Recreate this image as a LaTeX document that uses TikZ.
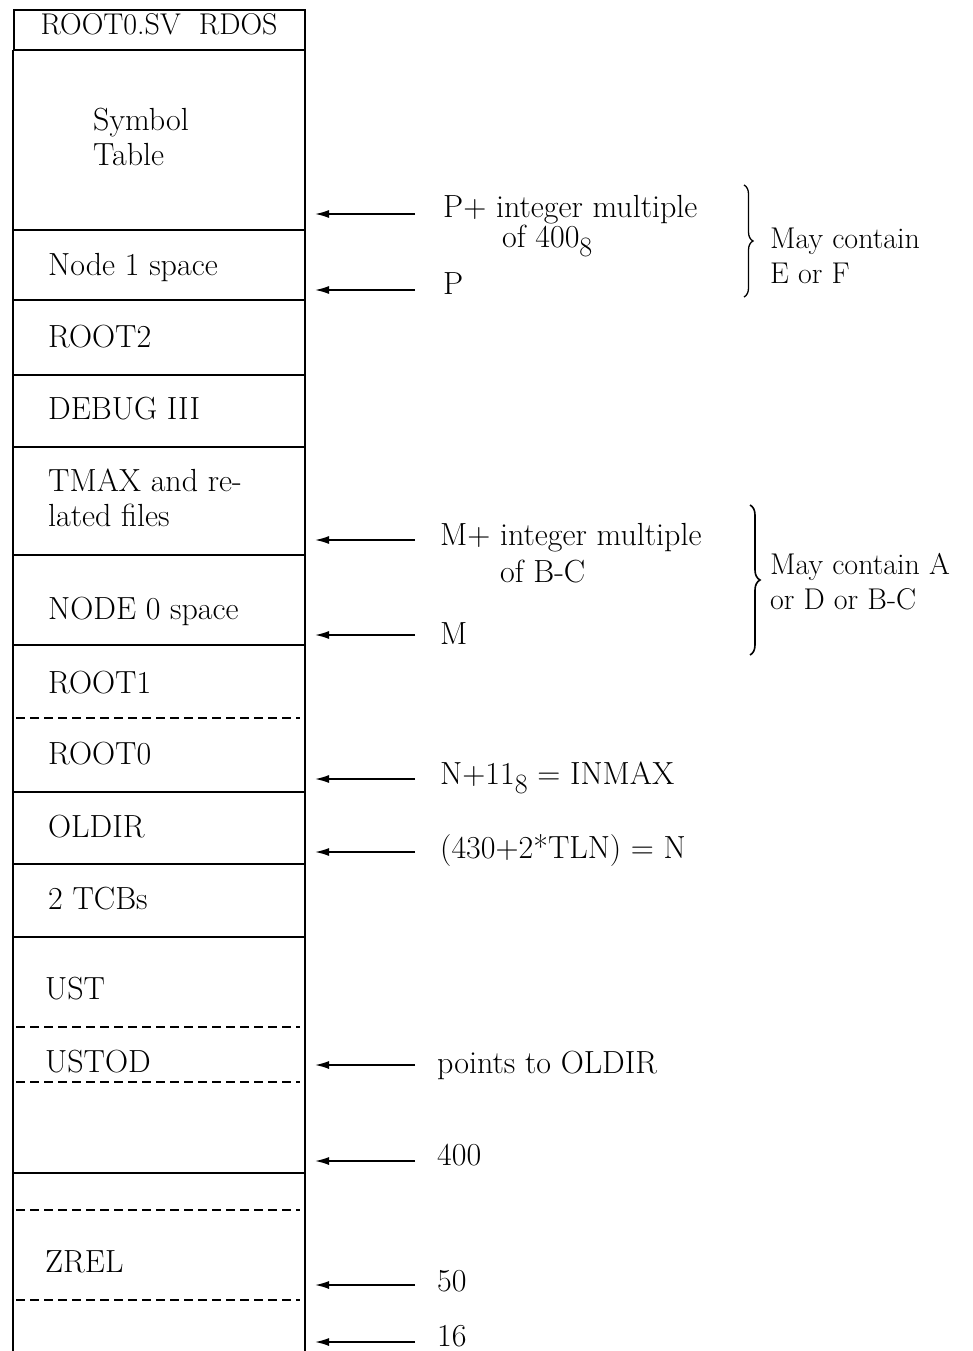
\documentclass[tikz,border=0pt]{standalone}
\usetikzlibrary{arrows.meta,decorations.pathreplacing}
\newcommand{\octsub}[1]{\raisebox{-0.3em}{\fontsize{28}{28}\selectfont #1}}

\begin{document}
\begin{tikzpicture}[x=1pt,y=-1pt,
  txt/.style={anchor=base west,inner sep=0pt,font=\fontsize{32}{35}\selectfont},
  twoline/.style={anchor=north west,inner sep=0pt,align=left,font=\fontsize{32}{35}\selectfont},
  note/.style={anchor=north west,inner sep=0pt,align=left,font=\fontsize{30}{35}\selectfont},
  ptr/.style={-{Latex[length=14pt,width=8pt]},line width=1.6pt},
  sep/.style={line width=2.5pt},
  dsep/.style={line width=2.6pt,dash pattern=on 9pt off 5pt}]
  \useasboundingbox (0,0) rectangle (973,1351);

  % header and memory column
  \draw[line width=1.3pt] (14,10) rectangle (305,50);
  \node[anchor=base,inner sep=0pt,font=\fontsize{30}{35}\selectfont] (hdr) at (159,35) {ROOT0.SV\ \ RDOS};
  \draw[line width=1.3pt] (13,50) -- (13,1351) (305,50) -- (305,1351);
  \foreach \y in {50,230,300,375,447,555,645,792,864,937,1173}
    \draw[sep] (13,\y) -- (305,\y);
  \foreach \y in {718,1027,1082,1210,1300}
    \draw[dsep] (16,\y) -- (300,\y);

  % contents of the column
  \node[twoline] (symtab) at (93,108) {Symbol\\Table};
  \node[twoline] (tmax) at (48,469) {TMAX and re-\\lated files};
  \foreach \n/\x/\y/\t in {node1/48/275/Node 1 space, root2/48/347/ROOT2,
      debug/48/419/DEBUG III, node0/48/619/NODE 0 space, root1/48/693/ROOT1,
      root0/48/764/ROOT0, oldir/48/837/OLDIR, tcbs/48/909/2 TCBs,
      ust/45/999/UST, ustod/45/1072/USTOD, zrel/45/1272/ZREL}
    \node[txt] (\n) at (\x,\y) {\t};

  % pointers
  \foreach \y [count=\i] in {214,290,540,635,779,852,1065,1161,1285,1342} {
    \coordinate (tail\i) at (415,\y);
    \coordinate (head\i) at (315,\y);
    \draw[ptr] (tail\i) -- (head\i);
  }
  \node[txt] (pplus) at (443,217) {P+\ integer multiple};
  \node[txt] (pof) at (502,247) {of 400\octsub{8}};
  \node[txt] (p) at (443,294) {P};
  \node[txt] (mplus) at (440,545) {M+ integer multiple};
  \node[txt] (mof) at (500,582) {of B-C};
  \node[txt] (m) at (440,644) {M};
  \node[txt] (inmax) at (440,784) {N+11\octsub{8} = INMAX};
  \node[txt] (nval) at (440,858) {(430+2*TLN) = N};
  \node[txt] (pts) at (437,1073) {points to OLDIR};
  \node[txt] (v400) at (437,1165) {400};
  \node[txt] (v50) at (437,1291) {50};
  \node[txt] (v16) at (437,1346) {16};

  % braces
  \draw[decorate,decoration={brace,amplitude=9pt},line width=1.3pt] (744,185) -- (744,297);
  \node[note] (ef) at (770,228) {May contain\\E or F};
  \draw[decorate,decoration={brace,amplitude=10pt},line width=1.6pt] (750,505) -- (750,655);
  \node[note] (ad) at (770,553) {May contain A\\or D or B-C};
\end{tikzpicture}
\end{document}
